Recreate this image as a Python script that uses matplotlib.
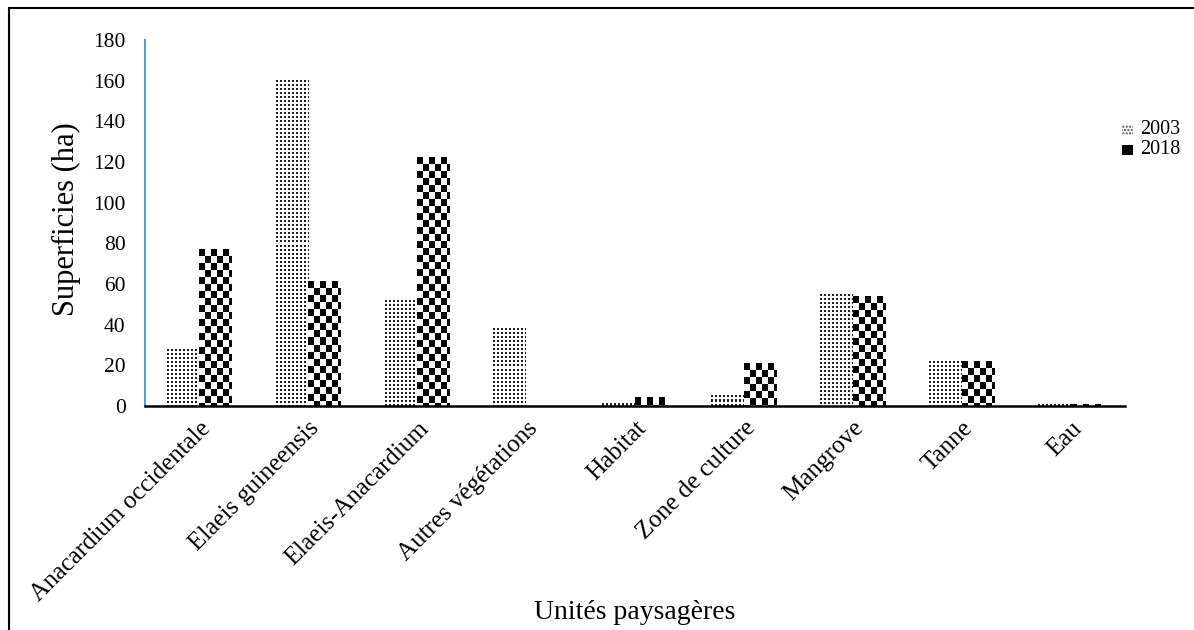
import matplotlib
matplotlib.use("Agg")
import matplotlib.pyplot as plt
import numpy as np
from matplotlib.patches import Rectangle

plt.rcParams['font.family'] = ['Liberation Serif', 'DejaVu Serif']

# surfaces par unité paysagère (ha)
categories = ['Anacardium occidentale', 'Elaeis guineensis', 'Elaeis-Anacardium',
              'Autres végétations', 'Habitat', 'Zone de culture', 'Mangrove',
              'Tanne', 'Eau']
sup_2003 = [28, 160, 52, 38, 1, 5, 55, 22, 0.5]
sup_2018 = [77, 61, 122, 0, 4, 21, 54, 22, 0.5]
years = ['2003', '2018']
y_ticks = list(range(0, 181, 20))


def dots(ny, nx):
    # fine dotted texture, one value per pixel
    j, i = np.meshgrid(np.arange(nx), np.arange(ny))
    return np.where((i % 4 < 2) & (j % 4 < 2), 0.12, 1.0)


def checker(ny, nx):
    j, i = np.meshgrid(np.arange(nx), np.arange(ny))
    return ((i // 7 + j // 6) % 2).astype(float)


def texture(ax, bars, fn):
    fig = ax.figure
    fig.canvas.draw()
    for b in bars:
        x0, y0 = b.get_x(), b.get_y()
        w, h = b.get_width(), b.get_height()
        if h <= 0:
            continue
        p0 = ax.transData.transform((x0, y0))
        p1 = ax.transData.transform((x0 + w, y0 + h))
        nx = max(1, int(round(p1[0] - p0[0])))
        ny = max(1, int(round(p1[1] - p0[1])))
        arr = fn(ny, nx)
        ax.imshow(arr, extent=(x0, x0 + w, y0, y0 + h), origin='upper',
                  cmap='gray', vmin=0, vmax=1, interpolation='nearest',
                  aspect='auto', zorder=2)
        b.set_facecolor('none')


fig = plt.figure(figsize=(11.94, 6.3), dpi=100)
ax = fig.add_axes([145 / 1194, 1 - 406 / 630, 980 / 1194, 366 / 630])

x = np.arange(len(categories))
w = 0.3
b1 = ax.bar(x - w / 2, sup_2003, w, color='white', linewidth=0, zorder=1)
b2 = ax.bar(x + w / 2, sup_2018, w, color='white', linewidth=0, zorder=1)

ax.set_xlim(-0.5, len(categories) - 0.5)
ax.set_ylim(0, 180)

texture(ax, b1, dots)
texture(ax, b2, checker)
ax.set_xlim(-0.5, len(categories) - 0.5)
ax.set_ylim(0, 180)

ax.set_yticks(y_ticks)
ax.set_xticks(x)
ax.set_xticklabels(categories, rotation=45, ha='right', rotation_mode='anchor')
ax.tick_params(axis='y', length=0, pad=14, labelsize=15.5)
ax.tick_params(axis='x', length=0, pad=8, labelsize=18)

for s in ['top', 'right']:
    ax.spines[s].set_visible(False)
ax.spines['left'].set_color('#5B9BD5')
ax.spines['left'].set_linewidth(1.5)
ax.spines['bottom'].set_color('black')
ax.spines['bottom'].set_linewidth(1.8)
ax.spines['bottom'].set_zorder(3)

ax.set_ylabel('Superficies (ha)', fontsize=22)
ax.yaxis.set_label_coords(-0.0806, 0.51)
ax.yaxis.label.set_va('center')
ax.set_xlabel('Unités paysagères', fontsize=20)
ax.xaxis.set_label_coords(0.5, -0.563)
ax.xaxis.label.set_va('center')

# legend drawn by hand on the right side
leg_y = [(406 - 130) / 366, (406 - 150) / 366]
ax.add_patch(Rectangle((0.997, leg_y[0] - 0.0135), 0.011, 0.027,
                       transform=ax.transAxes, clip_on=False,
                       facecolor='white', edgecolor='#444', linewidth=0,
                       hatch='.....'))
ax.add_patch(Rectangle((0.997, leg_y[1] - 0.0135), 0.011, 0.027,
                       transform=ax.transAxes, clip_on=False,
                       facecolor='black', edgecolor='black', linewidth=0))
for yy, lab in zip(leg_y, years):
    ax.text(1.0153, yy, lab, transform=ax.transAxes, fontsize=14.5,
            va='center', ha='left')

# outer frame
fig.patches.append(Rectangle((8.5 / 1194, -0.05), 1.2, 1 - 8.5 / 630 + 0.05,
                             transform=fig.transFigure, fill=False,
                             edgecolor='black', linewidth=1.5))

fig.savefig('out.png', dpi=100)
